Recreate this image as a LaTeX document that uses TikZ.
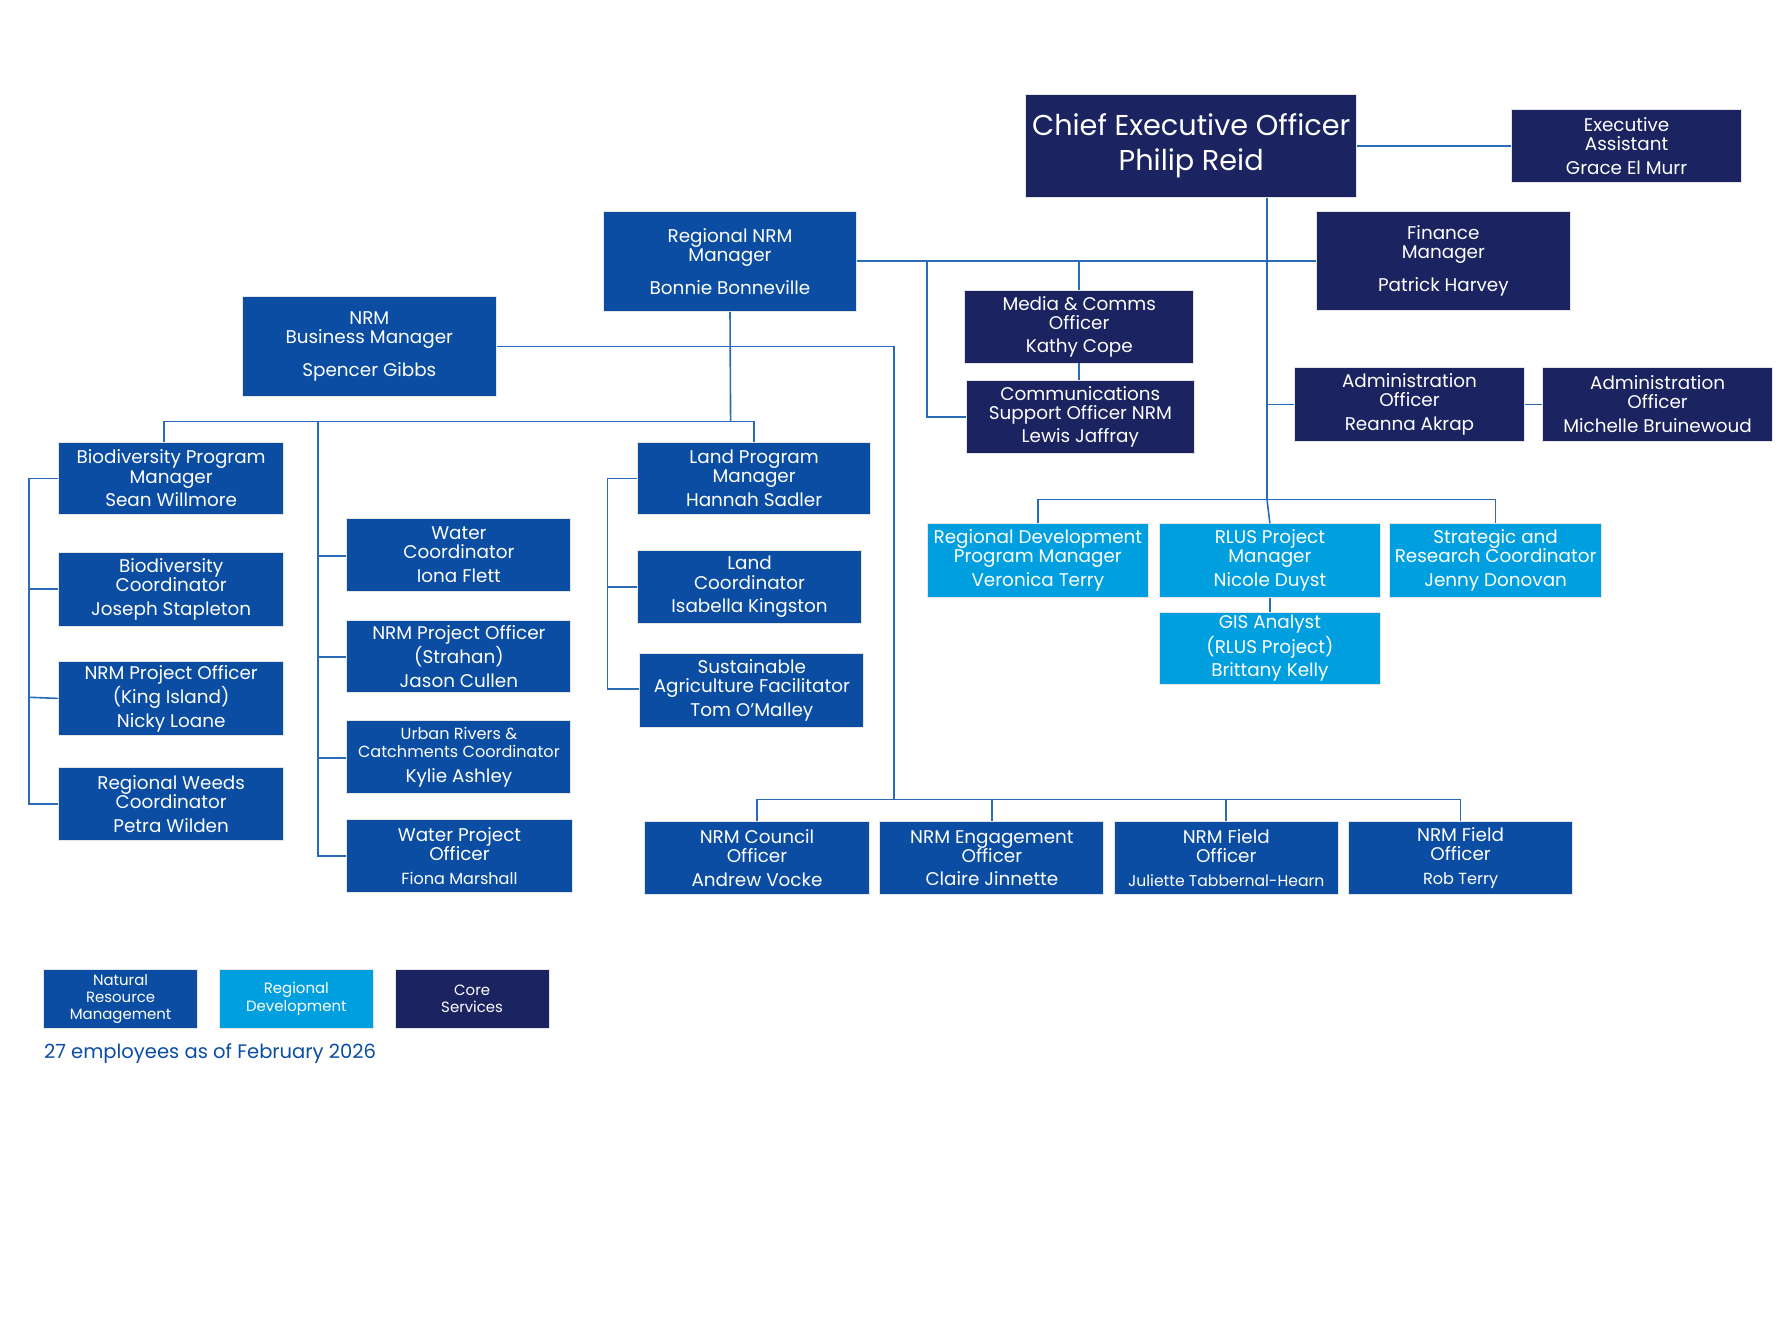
\documentclass[tikz,border=0pt]{standalone}
\usepackage{fontspec}
\setmainfont{Poppins}
\definecolor{nrm}{HTML}{0A4DA2}
\definecolor{rd}{HTML}{00A0E0}
\definecolor{core}{HTML}{1B2360}
\definecolor{ln}{HTML}{2A6BB8}
\newcommand\Bx[7]{%
 \pgfmathsetmacro\bw{(#4-#2)*0.5}\pgfmathsetmacro\bh{(#5-#3)*0.5}%
 \node[#6,minimum width=\bw pt,minimum height=\bh pt] (#1) at ({(#2+#4)/2},{(#3+#5)/2}) {#7};}
\begin{document}
\begin{tikzpicture}[x=0.5pt,y=-0.5pt,
 box/.style={draw=white!80!gray,line width=0.4pt,inner sep=0pt,text=white,align=center,font=\fontsize{8}{8.3}\selectfont},
 N/.style={box,fill=nrm}, R/.style={box,fill=rd}, C/.style={box,fill=core},
 L/.style={draw=ln,line width=0.7pt}]
\useasboundingbox (0,0) rectangle (1560,1170);
\Bx{ceo}{893}{82}{1181}{172}{C,font=\fontsize{12.5}{15.5}\selectfont}{Chief Executive Officer\\Philip Reid}
\Bx{ea}{1316}{95}{1516}{159}{C}{Executive\\Assistant\\[2pt]Grace El Murr}
\Bx{fin}{1146}{184}{1367}{270}{C}{Finance\\Manager\\[6pt]Patrick Harvey}
\Bx{rnrm}{525}{184}{746}{271}{N}{Regional NRM\\Manager\\[6pt]Bonnie Bonneville}
\Bx{nbm}{211}{258}{432}{345}{N}{NRM\\Business Manager\\[6pt]Spencer Gibbs}
\Bx{media}{840}{253}{1039}{316}{C}{Media \& Comms\\Officer\\[2pt]Kathy Cope}
\Bx{csup}{841}{331}{1040}{395}{C}{Communications\\Support Officer NRM\\[2pt]Lewis Jaffray}
\Bx{adm1}{1127}{320}{1327}{384}{C}{Administration\\Officer\\[2pt]Reanna Akrap}
\Bx{adm2}{1343}{320}{1543}{384}{C}{Administration\\Officer\\[2pt]Michelle Bruinewoud}
\Bx{rdpm}{807}{456}{1000}{520}{R}{Regional Development\\Program Manager\\[2pt]Veronica Terry}
\Bx{rlus}{1009}{456}{1202}{520}{R}{RLUS Project\\Manager\\[2pt]Nicole Duyst}
\Bx{strat}{1210}{456}{1394}{520}{R}{Strategic and\\Research Coordinator\\[2pt]Jenny Donovan}
\Bx{gis}{1009}{533}{1202}{596}{R}{GIS Analyst\\(RLUS Project)\\[2pt]Brittany Kelly}
\Bx{bpm}{51}{385}{247}{448}{N}{Biodiversity Program\\Manager\\[2pt]Sean Willmore}
\Bx{bc}{51}{481}{247}{545}{N}{Biodiversity\\Coordinator\\[2pt]Joseph Stapleton}
\Bx{pok}{51}{576}{247}{640}{N}{NRM Project Officer\\(King Island)\\[2pt]Nicky Loane}
\Bx{weed}{51}{668}{247}{732}{N}{Regional Weeds\\Coordinator\\[2pt]Petra Wilden}
\Bx{wc}{302}{451}{497}{515}{N}{Water\\Coordinator\\[2pt]Iona Flett}
\Bx{pos}{302}{540}{497}{603}{N}{NRM Project Officer\\(Strahan)\\[2pt]Jason Cullen}
\Bx{urc}{302}{627}{497}{691}{N,font=\fontsize{7}{7.8}\selectfont}{Urban Rivers \&\\Catchments Coordinator\\[3pt]{\fontsize{8}{8}\selectfont Kylie Ashley}}
\Bx{wpo}{302}{713}{498}{777}{N}{Water Project\\Officer\\[2pt]{\fontsize{7}{7}\selectfont Fiona Marshall}}
\Bx{lpm}{555}{385}{758}{448}{N}{Land Program\\Manager\\[2pt]Hannah Sadler}
\Bx{lc}{555}{479}{750}{543}{N}{Land\\Coordinator\\[2pt]Isabella Kingston}
\Bx{saf}{557}{569}{752}{633}{N}{Sustainable\\Agriculture Facilitator\\[2pt]Tom O’Malley}
\Bx{ncl}{561}{715}{757}{779}{N}{NRM Council\\Officer\\[2pt]Andrew Vocke}
\Bx{eng}{766}{715}{961}{779}{N}{NRM Engagement\\Officer\\[2pt]Claire Jinnette}
\Bx{f1}{970}{715}{1165}{779}{N}{NRM Field\\Officer\\[2pt]{\fontsize{6.8}{7}\selectfont Juliette Tabbernal-Hearn}}
\Bx{f2}{1174}{715}{1369}{779}{N}{NRM Field\\Officer\\[2pt]{\fontsize{7}{7}\selectfont Rob Terry}}
\Bx{lg1}{38}{844}{172}{895}{N,font=\fontsize{6.5}{7.5}\selectfont}{Natural\\Resource\\Management}
\Bx{lg2}{191}{844}{325}{895}{R,font=\fontsize{6.5}{7.5}\selectfont}{Regional\\Development}
\Bx{lg3}{344}{844}{478}{895}{C,font=\fontsize{6.5}{7.5}\selectfont}{Core\\Services}
\node[anchor=west,inner sep=0pt,text=nrm,font=\fontsize{8.5}{9}\selectfont] (cap) at (38,917) {27 employees as of February 2026};
% core lines
\draw[L] (ceo.east) -- (ea.west);
\coordinate (cb) at (1103,435);
\draw[L] (ceo.south -| cb) -- (cb);
\draw[L] (rnrm.east |- 0,227) -- (fin.west |- 0,227);
\draw[L] (media.north) -- (media.north |- 0,227);
\draw[L] (media.south) -- (csup.north -| media.south);
\draw[L] (807,227) |- (csup.west);
\draw[L] (1103,352) -- (adm1.west);
\draw[L] (adm1.east) -- (adm2.west);
\draw[L] (rdpm.north) |- (strat.north |- cb) -- (strat.north);
\draw[L] (cb) -- (rlus.north);
\draw[L] (rlus.south) -- (gis.north);
% NRM
\draw[L] (rnrm.south) -- (636,367);
\draw[L] (nbm.east) -| (778,696);
\draw[L] (ncl.north) |- (f2.north |- 0,696) -- (f2.north);
\draw[L] (eng.north) -- (eng.north |- 0,696);
\draw[L] (f1.north) -- (f1.north |- 0,696);
\draw[L] (bpm.north -| 143,0) |- (lpm.north |- 0,367) -- (lpm.north);
\draw[L] (277,367) |- (wpo.west);
\draw[L] (277,484) -- (wc.west |- 0,484);
\draw[L] (277,572) -- (pos.west |- 0,572);
\draw[L] (277,660) -- (urc.west |- 0,660);
\draw[L] (bpm.west) -| (25,700) -- (weed.west |- 0,700);
\draw[L] (25,513) -- (bc.west);
\draw[L] (25,607) -- (pok.west);
\draw[L] (lpm.west) -| (529,600) -- (saf.west |- 0,600);
\draw[L] (529,511) -- (lc.west);
\end{tikzpicture}
\end{document}
